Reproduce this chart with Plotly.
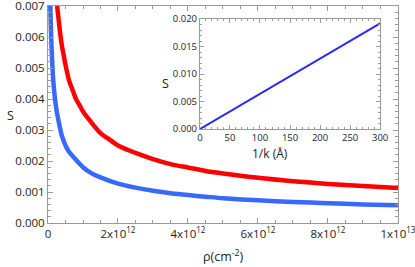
import plotly.graph_objects as go

# Main panel data (rho in cm^-2, S dimensionless)
rho_red = [0.26e12, 0.3e12, 0.35e12, 0.4e12, 0.45e12, 0.5e12, 0.6e12, 0.7e12, 0.8e12, 0.9e12, 1.0e12, 1.2e12, 1.5e12, 1.75e12,
           2e12, 2.5e12, 3e12, 3.5e12, 4e12, 4.5e12, 5e12, 6e12, 7e12, 8e12, 9e12, 10e12]
s_red = [0.0070, 0.0066, 0.0061, 0.0057, 0.0054, 0.0051, 0.0046, 0.0043, 0.0040, 0.0038, 0.0036, 0.0033, 0.0029, 0.0027,
         0.0025, 0.00226, 0.00206, 0.0019, 0.00179, 0.00168, 0.0016, 0.00146, 0.00135, 0.00126, 0.00119, 0.00113]

rho_blue = [0.066e12, 0.08e12, 0.1e12, 0.12e12, 0.15e12, 0.2e12, 0.25e12, 0.3e12, 0.4e12, 0.5e12, 0.6e12, 0.75e12, 1.0e12,
            1.25e12, 1.5e12, 2e12, 2.5e12, 3e12, 3.5e12, 4e12, 4.5e12, 5e12, 6e12, 7e12, 8e12, 9e12, 10e12]
s_blue = [0.0070, 0.0064, 0.0057, 0.0052, 0.0046, 0.0040, 0.0036, 0.0033, 0.0028, 0.0025, 0.0023, 0.0021, 0.0018,
          0.0016, 0.00147, 0.00127, 0.00114, 0.00104, 0.00096, 0.0009, 0.00085, 0.0008, 0.00073, 0.00068, 0.00064, 0.0006, 0.00057]

# Inset data
inv_k = [0, 50, 100, 150, 200, 250, 300]
s_inset = [0.0, 0.0032, 0.0064, 0.0096, 0.0128, 0.016, 0.0192]

x_tickvals = [0, 2e12, 4e12, 6e12, 8e12, 1e13]
x_ticktext = ["0", "2x10<sup>12</sup>", "4x10<sup>12</sup>", "6x10<sup>12</sup>", "8x10<sup>12</sup>", "1x10<sup>13</sup>"]

FONT = "Open Sans"
FRAME = "#9a9a9a"

fig = go.Figure()
fig.add_trace(go.Scatter(x=rho_red, y=s_red, mode="lines", line=dict(color="rgb(255,0,0)", width=4.5, shape="spline", smoothing=0.8), xaxis="x", yaxis="y"))
fig.add_trace(go.Scatter(x=rho_blue, y=s_blue, mode="lines", line=dict(color="rgb(55,105,255)", width=4.5, shape="spline", smoothing=0.8), xaxis="x", yaxis="y"))
fig.add_trace(go.Scatter(x=inv_k, y=s_inset, mode="lines", line=dict(color="rgb(40,40,255)", width=2), xaxis="x2", yaxis="y2"))

common = dict(showgrid=False, zeroline=False, showline=True, linecolor=FRAME, linewidth=1,
              mirror="allticks", ticks="inside", tickcolor=FRAME, automargin=False,
              ticklabeloverflow="allow")

fig.update_layout(
    width=415, height=267,
    margin=dict(l=48, r=17, t=6, b=44),
    paper_bgcolor="white", plot_bgcolor="white",
    showlegend=False,
    font=dict(family=FONT, color="#222222", size=11.5),
    xaxis=dict(**common, domain=[0, 1], range=[0, 1.0001e13], tickvals=x_tickvals, ticktext=x_ticktext,
               ticklen=5, tickfont=dict(size=11.5),
               minor=dict(dtick=0.5e12, ticks="inside", ticklen=3, tickcolor=FRAME)),
    yaxis=dict(**common, domain=[0, 1], range=[0, 0.007], dtick=0.001, tickformat=".3f",
               ticklen=5, tickfont=dict(size=11.5),
               minor=dict(dtick=0.0002, ticks="inside", ticklen=3, tickcolor=FRAME)),
    xaxis2=dict(**common, domain=[0.434, 0.949], anchor="y2", range=[0, 300.01], dtick=50,
                ticklen=4, tickfont=dict(size=9.5),
                minor=dict(dtick=10, ticks="inside", ticklen=2, tickcolor=FRAME)),
    yaxis2=dict(**common, domain=[0.433, 0.940], anchor="x2", range=[0, 0.02], dtick=0.005, tickformat=".3f",
                ticklen=4, tickfont=dict(size=9.5),
                minor=dict(dtick=0.001, ticks="inside", ticklen=2, tickcolor=FRAME)),
    annotations=[
        dict(text="S", xref="paper", yref="paper", x=-0.123, y=0.495, showarrow=False, font=dict(size=12.5)),
        dict(text="ρ(cm<sup>-2</sup>)", xref="paper", yref="paper", x=0.501, y=-0.150, yanchor="middle", showarrow=False, font=dict(size=12.5)),
        dict(text="S", xref="paper", yref="paper", x=0.335, y=0.690, showarrow=False, font=dict(size=12.5)),
        dict(text="1/k (Å)", xref="paper", yref="paper", x=0.690, y=0.318, yanchor="middle", showarrow=False, font=dict(size=12)),
    ],
)

fig.write_html("out.html", post_script="document.body.style.margin='0';",
               config={"displayModeBar": False})
